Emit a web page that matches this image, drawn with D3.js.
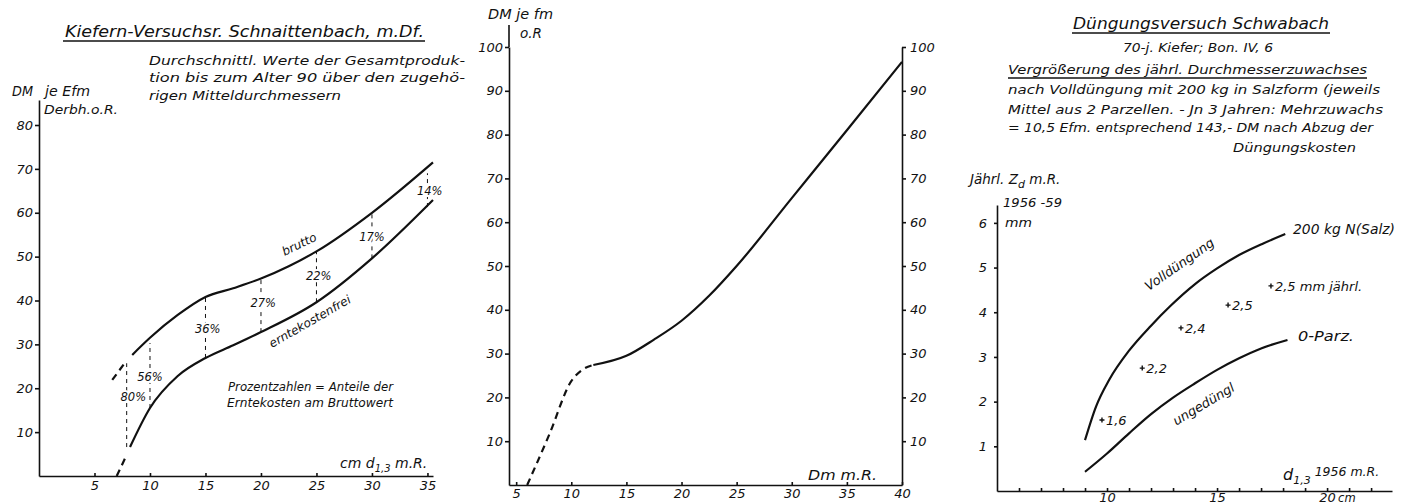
<!DOCTYPE html>
<html>
<head>
<meta charset="utf-8">
<title>Kiefern / Düngung</title>
<script src="https://d3js.org/d3.v7.min.js"></script>
<style>
  body { margin: 0; background: #fff; }
  svg text { font-family: "DejaVu Sans", sans-serif; font-style: italic; fill: #111; }
  .axis path, .axis line { stroke: #111; stroke-width: 1.6; }
  .axis text { font-family: "DejaVu Sans", sans-serif; font-style: italic; font-size: 13px; fill: #111; }
  .curve { fill: none; stroke: #111; stroke-width: 2.2; }
  .dash { fill: none; stroke: #111; stroke-width: 2.2; stroke-dasharray: 7,5; }
  .pct { stroke: #111; stroke-width: 1; stroke-dasharray: 4,4; }
</style>
</head>
<body>
<script>
// ---- panel 1: Kiefern-Versuchsreihe Schnaittenbach ----
var p1Ticks = [5, 10, 15, 20, 25, 30, 35];
var p1YTicks = [10, 20, 30, 40, 50, 60, 70, 80];
var bruttoDashX = [6.6, 7.8];
var bruttoDashY = [21.9, 26.0];
var bruttoX = [8.4, 10, 12.5, 15, 17.5, 20, 22.5, 25, 30, 35.5];
var bruttoY = [27.6, 31.5, 36.7, 40.8, 42.8, 45.0, 47.8, 51.2, 60.0, 71.5];
var nettoDashX = [7.0, 7.9];
var nettoDashY = [0, 4.8];
var nettoX = [8.2, 10, 12.5, 15, 17.5, 20, 25, 30, 35.5];
var nettoY = [6.6, 15.5, 22.8, 26.9, 29.8, 32.8, 39.6, 49.6, 62.9];
var pctX = [7.9, 10, 15, 20, 25, 30, 35];
var pctLo = [6.6, 15.5, 26.9, 32.8, 39.6, 49.6, 61.3];
var pctHi = [25.7, 30.3, 40.8, 45.0, 51.2, 60.0, 69.0];
var pctLabels = ["80%", "56%", "36%", "27%", "22%", "17%", "14%"];
var pctLabelX = [8.5, 10, 15.2, 20.2, 25.2, 30, 35.2];
var pctLabelY = [18, 22.5, 33.5, 39.4, 45.5, 54.4, 65];

// ---- panel 2: DM je fm o.R. ----
var p2Ticks = [5, 10, 15, 20, 25, 30, 35, 40];
var p2YTicks = [10, 20, 30, 40, 50, 60, 70, 80, 90, 100];
var p2DashX = [6.0, 8, 10, 11, 12];
var p2DashY = [0, 11.5, 23.7, 26.3, 27.4];
var p2X = [12, 15, 17.5, 20, 22.5, 25, 30, 35, 40];
var p2Y = [27.4, 29.5, 33.2, 37.5, 43.2, 50.0, 65.5, 81.0, 96.6];

// ---- panel 3: Düngungsversuch Schwabach ----
var p3Ticks = [6, 7, 8, 9, 10, 11, 12, 13, 14, 15, 16, 17, 18, 19, 20, 21, 22];
var p3Labeled = [10, 15, 20];
var p3YTicks = [1, 2, 3, 4, 5, 6];
var vollX = [9.0, 9.5, 10.1, 11.0, 12.0, 12.9, 14.0, 15.0, 16.0, 17.1, 18.1];
var vollY = [1.14, 1.89, 2.49, 3.14, 3.70, 4.15, 4.63, 4.98, 5.28, 5.54, 5.75];
var ungX = [9.0, 10.0, 11.0, 12.0, 13.0, 14.0, 15.0, 16.0, 17.0, 18.2];
var ungY = [0.43, 0.84, 1.29, 1.72, 2.09, 2.41, 2.71, 2.97, 3.19, 3.38];
var diffX = [9.77, 11.6, 13.36, 15.5, 17.45];
var diffY = [1.59, 2.75, 3.65, 4.16, 4.59];
var diffLabels = ["1,6", "2,2", "2,4", "2,5", "2,5 mm  jährl."];

var svg = d3.select("body").append("svg").attr("width", 1410).attr("height", 504);

function zip(xs, ys) { return xs.map(function(v, i) { return [v, ys[i]]; }); }

function txt(g, x, y, s, o) {
  o = o || {};
  var t = g.append("text").attr("x", x).attr("y", y).text(s)
    .attr("font-size", o.fs || 13);
  if (o.w) t.attr("textLength", o.w).attr("lengthAdjust", "spacingAndGlyphs");
  if (o.anchor) t.attr("text-anchor", o.anchor);
  if (o.rot) t.attr("transform", "rotate(" + o.rot + "," + x + "," + y + ")");
  return t;
}
function uline(g, x1, x2, y) {
  g.append("line").attr("x1", x1).attr("x2", x2).attr("y1", y).attr("y2", y)
    .attr("stroke", "#111").attr("stroke-width", 1.3);
}

// ================= panel 1 =================
var g1 = svg.append("g");
var x1 = d3.scaleLinear().domain([0, 35.5]).range([39, 433]);
var y1 = d3.scaleLinear().domain([0, 85.7]).range([476, 100]);
var line1 = d3.line().x(function(d) { return x1(d[0]); }).y(function(d) { return y1(d[1]); })
  .curve(d3.curveMonotoneX);

g1.append("g").attr("class", "axis").attr("transform", "translate(0," + y1(0) + ")")
  .call(d3.axisBottom(x1).tickValues(p1Ticks).tickSize(-3).tickSizeOuter(0).tickPadding(5));
g1.append("g").attr("class", "axis").attr("transform", "translate(" + x1(0) + ",0)")
  .call(d3.axisLeft(y1).tickValues(p1YTicks).tickSize(4).tickSizeOuter(0).tickPadding(2));

g1.selectAll(".pct").data(pctX).enter().append("line").attr("class", "pct")
  .attr("x1", function(d) { return x1(d); }).attr("x2", function(d) { return x1(d); })
  .attr("y1", function(d, i) { return y1(pctLo[i]); })
  .attr("y2", function(d, i) { return y1(pctHi[i]); });
g1.selectAll(".pctl").data(pctLabels).enter().append("text").attr("class", "pctl")
  .attr("x", function(d, i) { return x1(pctLabelX[i]); })
  .attr("y", function(d, i) { return y1(pctLabelY[i]); })
  .attr("dy", "0.35em").attr("text-anchor", "middle").attr("font-size", 11.5)
  .attr("stroke", "#fff").attr("stroke-width", 4).attr("paint-order", "stroke")
  .text(function(d) { return d; });

g1.append("path").attr("class", "dash").attr("d", line1(zip(bruttoDashX, bruttoDashY)));
g1.append("path").attr("class", "curve").attr("d", line1(zip(bruttoX, bruttoY)));
g1.append("path").attr("class", "dash").attr("d", line1(zip(nettoDashX, nettoDashY)));
g1.append("path").attr("class", "curve").attr("d", line1(zip(nettoX, nettoY)));

txt(g1, 65, 37, "Kiefern-Versuchsr. Schnaittenbach,  m.Df.", { fs: 16.5, w: 359 });
uline(g1, 63, 425, 41);
txt(g1, 149, 65, "Durchschnittl. Werte der Gesamtproduk-", { w: 316 });
txt(g1, 149, 82, "tion bis zum Alter 90 über den zugehö-", { w: 316 });
txt(g1, 149, 100, "rigen Mitteldurchmessern", { w: 192 });
txt(g1, 12, 96, "DM", { fs: 13.5, w: 21 });
txt(g1, 45, 96, "je Efm", { fs: 13.5, w: 45 });
txt(g1, 44, 114, "Derbh.o.R.", { fs: 13, w: 74 });
txt(g1, 228, 391, "Prozentzahlen = Anteile der", { fs: 11.5, w: 165 });
txt(g1, 227, 407, "Erntekosten am Bruttowert", { fs: 11.5, w: 166 });
txt(g1, 301, 248, "brutto", { fs: 12, anchor: "middle", rot: -26 });
txt(g1, 312, 325, "erntekostenfrei", { fs: 12, anchor: "middle", rot: -30 });
var xl1 = g1.append("text").attr("x", 340).attr("y", 468).attr("font-size", 14);
xl1.append("tspan").text("cm  d");
xl1.append("tspan").attr("dy", 4).attr("font-size", 10).text("1,3");
xl1.append("tspan").attr("dy", -4).text(" m.R.");

// ================= panel 2 =================
var g2 = svg.append("g");
var x2 = d3.scaleLinear().domain([4.35, 40]).range([509, 902]);
var y2 = d3.scaleLinear().domain([0, 100]).range([485, 47]);
var line2 = d3.line().x(function(d) { return x2(d[0]); }).y(function(d) { return y2(d[1]); })
  .curve(d3.curveMonotoneX);

g2.append("g").attr("class", "axis").attr("transform", "translate(0," + y2(0) + ")")
  .call(d3.axisBottom(x2).tickValues(p2Ticks).tickSize(-3).tickSizeOuter(0).tickPadding(4));
g2.append("g").attr("class", "axis").attr("transform", "translate(" + x2(4.35) + ",0)")
  .call(d3.axisLeft(y2).tickValues(p2YTicks).tickSize(4).tickSizeOuter(0).tickPadding(2));
g2.append("line").attr("stroke", "#111").attr("stroke-width", 1.6)
  .attr("x1", x2(4.35)).attr("x2", x2(4.35)).attr("y1", y2(100)).attr("y2", 25);
g2.append("g").attr("class", "axis").attr("transform", "translate(" + x2(40) + ",0)")
  .call(d3.axisRight(y2).tickValues(p2YTicks).tickSize(4).tickSizeOuter(0).tickPadding(4));

g2.append("path").attr("class", "dash").attr("stroke-dasharray", "8,5")
  .attr("d", line2(zip(p2DashX, p2DashY)));
g2.append("path").attr("class", "curve").attr("d", line2(zip(p2X, p2Y)));

txt(g2, 488, 19, "DM je fm", { fs: 13.5, w: 65 });
txt(g2, 520, 38, "o.R", { fs: 13.5, w: 22 });
txt(g2, 808, 480, "Dm  m.R.", { fs: 14, w: 69 });

// ================= panel 3 =================
var g3 = svg.append("g");
var x3 = d3.scaleLinear().domain([5, 22.95]).range([997, 1392]);
var y3 = d3.scaleLinear().domain([0, 6.4]).range([491, 205]);
var line3 = d3.line().x(function(d) { return x3(d[0]); }).y(function(d) { return y3(d[1]); })
  .curve(d3.curveMonotoneX);

g3.append("g").attr("class", "axis").attr("transform", "translate(0," + y3(0) + ")")
  .call(d3.axisBottom(x3).tickValues(p3Ticks).tickSize(-3).tickSizeOuter(0).tickPadding(2)
    .tickFormat(function(d) { return p3Labeled.indexOf(d) >= 0 ? d : ""; }));
g3.append("g").attr("class", "axis").attr("transform", "translate(" + x3(5) + ",0)")
  .call(d3.axisLeft(y3).tickValues(p3YTicks).tickSize(3).tickSizeOuter(0).tickPadding(7)
    .tickFormat(d3.format("d")));
g3.selectAll(".axis text").attr("font-size", 12);
txt(g3, x3(20) + 11, y3(0) + 11, "cm", { fs: 11.5 });

g3.append("path").attr("class", "curve").attr("d", line3(zip(vollX, vollY)));
g3.append("path").attr("class", "curve").attr("d", line3(zip(ungX, ungY)));

var pts = g3.selectAll(".pt").data(diffX).enter().append("g").attr("class", "pt")
  .attr("transform", function(d, i) { return "translate(" + x3(d) + "," + y3(diffY[i]) + ")"; });
pts.append("path").attr("d", "M-2.5,0H2.5M0,-2.5V2.5").attr("stroke", "#111").attr("stroke-width", 1.4);
pts.append("text").attr("x", 4).attr("dy", "0.4em").attr("font-size", 13)
  .text(function(d, i) { return diffLabels[i]; });

txt(g3, 1073, 29, "Düngungsversuch  Schwabach", { fs: 16, w: 256 });
uline(g3, 1072, 1330, 33);
txt(g3, 1123, 52, "70-j. Kiefer; Bon. IV, 6", { fs: 12.5, w: 150 });
txt(g3, 1008, 74, "Vergrößerung  des  jährl. Durchmesserzuwachses", { fs: 13, w: 359 });
uline(g3, 1008, 1367, 78);
txt(g3, 1008, 94, "nach Volldüngung  mit 200 kg  in Salzform (jeweils", { fs: 13, w: 372 });
txt(g3, 1008, 114, "Mittel aus 2 Parzellen. - Jn  3 Jahren: Mehrzuwachs", { fs: 13, w: 375 });
txt(g3, 1008, 132, "= 10,5 Efm. entsprechend 143,- DM nach Abzug  der", { fs: 13, w: 365 });
txt(g3, 1233, 152, "Düngungskosten", { fs: 13, w: 123 });

var yl3 = g3.append("text").attr("x", 970).attr("y", 184).attr("font-size", 13.5);
yl3.append("tspan").text("Jährl. Z");
yl3.append("tspan").attr("dy", 4).attr("font-size", 11).text("d");
yl3.append("tspan").attr("dy", -4).text(" m.R.");
txt(g3, 1003, 207, "1956 -59", { fs: 12.5, w: 59 });
txt(g3, 1005, 227, "mm", { fs: 13, w: 27 });
txt(g3, 1293, 234, "200 kg N(Salz)", { fs: 13.5, w: 102 });
txt(g3, 1298, 341, "0-Parz.", { fs: 13.5, w: 56 });
txt(g3, 1182, 268, "Volldüngung", { fs: 13, anchor: "middle", rot: -35 });
txt(g3, 1206, 408, "ungedüngl", { fs: 13, anchor: "middle", rot: -31 });
var xl3 = g3.append("text").attr("x", 1283).attr("y", 480).attr("font-size", 16);
xl3.append("tspan").text("d");
xl3.append("tspan").attr("dy", 4).attr("font-size", 11).text("1,3");
xl3.append("tspan").attr("dy", -8).attr("font-size", 12.5).text(" 1956 m.R.");
</script>
</body>
</html>
